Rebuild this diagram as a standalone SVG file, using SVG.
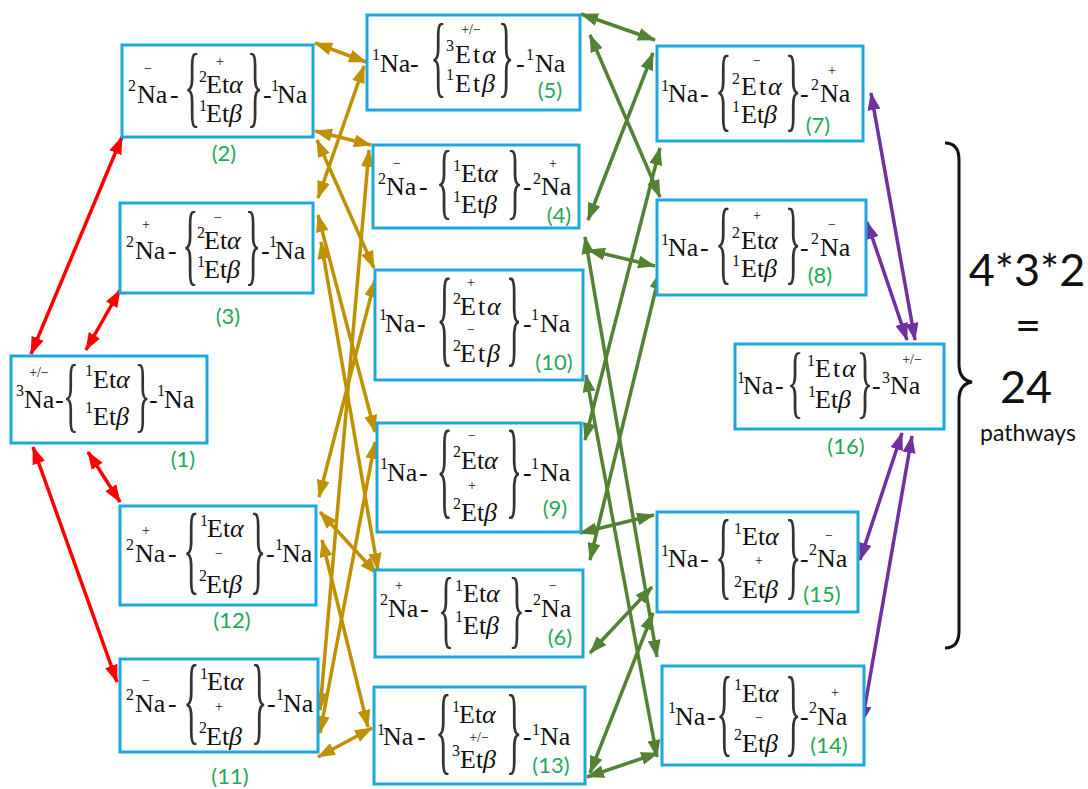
<svg xmlns="http://www.w3.org/2000/svg" width="1088" height="789" viewBox="0 0 1088 789">
<style>
.box{fill:#fff;stroke:#1ca8dd;stroke-width:3}
.m{font-family:"Liberation Serif","Times New Roman","DejaVu Serif",serif;font-size:26px;fill:#111}
.s{font-family:"Liberation Serif","Times New Roman","DejaVu Serif",serif;font-size:16px;fill:#111}
.c{font-family:"Liberation Serif","Times New Roman","DejaVu Serif",serif;font-size:14px;fill:#111;text-anchor:middle}
.i{font-style:italic}
.br{font-family:"Liberation Serif","Times New Roman","DejaVu Serif",serif;fill:#333}
.lb{font-family:Lato,"Open Sans",sans-serif;font-size:22px;fill:#1fa85a;text-anchor:middle}
.big{font-family:Lato,"Open Sans",sans-serif;fill:#111;text-anchor:middle}
.cn line{stroke-width:3.5;fill:none}
.r{stroke:#ff0000;marker-start:url(#ar);marker-end:url(#ar)}
.o{stroke:#bf9000;marker-start:url(#ao);marker-end:url(#ao)}
.g{stroke:#548235;marker-start:url(#ag);marker-end:url(#ag)}
.p{stroke:#7030a0;marker-start:url(#ap);marker-end:url(#ap)}
</style>
<defs>
<marker id="ar" markerUnits="userSpaceOnUse" markerWidth="18" markerHeight="13" viewBox="0 0 18 13" refX="17" refY="6.5" orient="auto-start-reverse"><path d="M0,0 L18,6.5 L0,13 z" fill="#ff0000"/></marker>
<marker id="ao" markerUnits="userSpaceOnUse" markerWidth="18" markerHeight="13" viewBox="0 0 18 13" refX="17" refY="6.5" orient="auto-start-reverse"><path d="M0,0 L18,6.5 L0,13 z" fill="#bf9000"/></marker>
<marker id="ag" markerUnits="userSpaceOnUse" markerWidth="18" markerHeight="13" viewBox="0 0 18 13" refX="17" refY="6.5" orient="auto-start-reverse"><path d="M0,0 L18,6.5 L0,13 z" fill="#548235"/></marker>
<marker id="ap" markerUnits="userSpaceOnUse" markerWidth="18" markerHeight="13" viewBox="0 0 18 13" refX="17" refY="6.5" orient="auto-start-reverse"><path d="M0,0 L18,6.5 L0,13 z" fill="#7030a0"/></marker>
</defs>
<rect width="1088" height="789" fill="#fff"/>

<g id="connectors" class="cn">
<line class="r" x1="31" y1="354" x2="122" y2="137"/>
<line class="r" x1="86" y1="350" x2="120" y2="290"/>
<line class="r" x1="88" y1="452" x2="120" y2="502"/>
<line class="r" x1="33" y1="447" x2="117" y2="682"/>

<line class="o" x1="315" y1="43" x2="366" y2="62"/>
<line class="o" x1="315" y1="131" x2="371" y2="145"/>
<line class="o" x1="317" y1="140" x2="374" y2="268"/>
<line class="o" x1="318" y1="198" x2="364" y2="66"/>
<line class="o" x1="318" y1="215" x2="375" y2="432"/>
<line class="o" x1="321" y1="242" x2="378" y2="570"/>
<line class="o" x1="319" y1="497" x2="375" y2="280"/>
<line class="o" x1="320" y1="512" x2="377" y2="574"/>
<line class="o" x1="322" y1="540" x2="368" y2="727"/>
<line class="o" x1="320" y1="710" x2="369" y2="150"/>
<line class="o" x1="320" y1="733" x2="375" y2="442"/>
<line class="o" x1="318" y1="757" x2="372" y2="728"/>

<line class="g" x1="581" y1="14" x2="655" y2="40"/>
<line class="g" x1="590" y1="35" x2="660" y2="197"/>
<line class="g" x1="588" y1="220" x2="653" y2="53"/>
<line class="g" x1="585" y1="237" x2="657" y2="657"/>
<line class="g" x1="588" y1="250" x2="655" y2="266"/>
<line class="g" x1="586" y1="375" x2="657" y2="757"/>
<line class="g" x1="585" y1="440" x2="660" y2="148"/>
<line class="g" x1="580" y1="533" x2="654" y2="515"/>
<line class="g" x1="590" y1="560" x2="660" y2="272"/>
<line class="g" x1="590" y1="653" x2="652" y2="587"/>
<line class="g" x1="590" y1="773" x2="653" y2="613"/>
<line class="g" x1="587" y1="777" x2="658" y2="753"/>

<line class="p" x1="871" y1="93" x2="915" y2="340"/>
<line class="p" x1="867" y1="222" x2="907" y2="340"/>
<line class="p" x1="860" y1="560" x2="902" y2="433"/>
<line class="p" x1="862" y1="723" x2="912" y2="436"/>
</g>

<g id="n1">
<rect class="box" x="11" y="356" width="196" height="87"/>
<text class="s" x="16" y="396">3</text><text class="c" x="39" y="377">+/−</text><text class="m" x="24" y="408">Na</text>
<text class="m" x="55" y="408">-</text>
<text class="br" font-size="82" transform="translate(65,422) scale(0.4,1)" x="-5">{</text>
<text class="s" x="85" y="376">1</text><text class="m" x="93" y="388">Et<tspan class="i">α</tspan></text>
<text class="s" x="85" y="413">1</text><text class="m" x="93" y="425">Et<tspan class="i">β</tspan></text>
<text class="br" font-size="82" transform="translate(136,422) scale(0.4,1)" x="-3">}</text>
<text class="m" x="149" y="408">-</text><text class="s" x="157" y="396">1</text><text class="m" x="164" y="408">Na</text>
<text class="lb" x="183" y="467">(1)</text>
</g>

<g id="n2">
<rect class="box" x="122" y="45" width="191" height="92"/>
<text class="s" x="128" y="91">2</text><text class="c" x="148" y="73">−</text><text class="m" x="137" y="103">Na</text>
<text class="m" x="170" y="103">-</text>
<text class="br" font-size="90" transform="translate(186,115.6) scale(0.37,1)" x="-5">{</text>
<text class="c" x="220" y="66">+</text>
<text class="s" x="199" y="82">2</text><text class="m" x="206" y="93">Et<tspan class="i">α</tspan></text>
<text class="s" x="199" y="111">1</text><text class="m" x="206" y="122">Et<tspan class="i">β</tspan></text>
<text class="br" font-size="90" transform="translate(248,115.6) scale(0.37,1)" x="-3">}</text>
<text class="m" x="263" y="103">-</text><text class="s" x="271" y="91">1</text><text class="m" x="277" y="103">Na</text>
<text class="lb" x="224" y="161">(2)</text>
</g>

<g id="n3">
<rect class="box" x="120" y="203" width="193" height="90"/>
<text class="s" x="126" y="247">2</text><text class="c" x="146" y="229">+</text><text class="m" x="135" y="259">Na</text>
<text class="m" x="168" y="259">-</text>
<text class="br" font-size="90" transform="translate(184,273.6) scale(0.37,1)" x="-5">{</text>
<text class="c" x="218" y="222">−</text>
<text class="s" x="197" y="238">2</text><text class="m" x="204" y="249">Et<tspan class="i">α</tspan></text>
<text class="s" x="197" y="267">1</text><text class="m" x="204" y="278">Et<tspan class="i">β</tspan></text>
<text class="br" font-size="90" transform="translate(246,273.6) scale(0.37,1)" x="-3">}</text>
<text class="m" x="261" y="259">-</text><text class="s" x="269" y="247">1</text><text class="m" x="275" y="259">Na</text>
<text class="lb" x="228" y="324">(3)</text>
</g>

<g id="n12">
<rect class="box" x="120" y="506" width="196" height="99"/>
<text class="s" x="126" y="550">2</text><text class="c" x="146" y="535">+</text><text class="m" x="135" y="562">Na</text>
<text class="m" x="168" y="562">-</text>
<text class="br" font-size="99" transform="translate(185,582) scale(0.34,1)" x="-5">{</text>
<text class="s" x="200" y="526">1</text><text class="m" x="207" y="537">Et<tspan class="i">α</tspan></text>
<text class="c" x="219" y="558">−</text>
<text class="s" x="199" y="581">2</text><text class="m" x="206" y="593">Et<tspan class="i">β</tspan></text>
<text class="br" font-size="99" transform="translate(251,582) scale(0.34,1)" x="-3">}</text>
<text class="m" x="266" y="562">-</text><text class="s" x="275" y="550">1</text><text class="m" x="282" y="562">Na</text>
<text class="lb" x="232" y="628">(12)</text>
</g>

<g id="n11">
<rect class="box" x="120" y="659" width="198" height="93"/>
<text class="s" x="126" y="700">2</text><text class="c" x="146" y="685">−</text><text class="m" x="135" y="712">Na</text>
<text class="m" x="168" y="712">-</text>
<text class="br" font-size="97" transform="translate(185,732.4) scale(0.35,1)" x="-5">{</text>
<text class="s" x="200" y="679">1</text><text class="m" x="207" y="690">Et<tspan class="i">α</tspan></text>
<text class="c" x="219" y="711">+</text>
<text class="s" x="199" y="733">2</text><text class="m" x="206" y="745">Et<tspan class="i">β</tspan></text>
<text class="br" font-size="97" transform="translate(252,732.4) scale(0.35,1)" x="-3">}</text>
<text class="m" x="267" y="712">-</text><text class="s" x="276" y="700">1</text><text class="m" x="283" y="712">Na</text>
<text class="lb" x="230" y="784">(11)</text>
</g>

<g id="n5">
<rect class="box" x="367" y="15" width="213" height="95"/>
<text class="s" x="372" y="60">1</text><text class="m" x="380" y="72">Na</text>
<text class="m" x="410" y="72">-</text>
<text class="br" font-size="91" transform="translate(432,86.4) scale(0.37,1)" x="-5">{</text>
<text class="c" x="471" y="34">+/−</text>
<text class="s" x="446" y="51">3</text><text class="m" x="455" y="63"><tspan letter-spacing="2">Et</tspan><tspan class="i">α</tspan></text>
<text class="s" x="446" y="80">1</text><text class="m" x="455" y="92"><tspan letter-spacing="2">Et</tspan><tspan class="i">β</tspan></text>
<text class="br" font-size="91" transform="translate(499,86.4) scale(0.37,1)" x="-3">}</text>
<text class="m" x="516" y="72">-</text><text class="s" x="526" y="60">1</text><text class="m" x="535" y="72">Na</text>
<text class="lb" x="550" y="98">(5)</text>
</g>

<g id="n4">
<rect class="box" x="373" y="145" width="206" height="83"/>
<text class="s" x="378" y="184">2</text><text class="c" x="397" y="168">−</text><text class="m" x="386" y="195">Na</text>
<text class="m" x="419" y="195">-</text>
<text class="br" font-size="85" transform="translate(438,208.7) scale(0.4,1)" x="-5">{</text>
<text class="s" x="453" y="171">1</text><text class="m" x="461" y="182">Et<tspan class="i">α</tspan></text>
<text class="s" x="453" y="202">1</text><text class="m" x="461" y="213">Et<tspan class="i">β</tspan></text>
<text class="br" font-size="85" transform="translate(508,208.7) scale(0.4,1)" x="-3">}</text>
<text class="m" x="523" y="195">-</text><text class="s" x="533" y="184">2</text><text class="c" x="553" y="168">+</text><text class="m" x="541" y="195">Na</text>
<text class="lb" x="559" y="223">(4)</text>
</g>

<g id="n10">
<rect class="box" x="375" y="270" width="208" height="110"/>
<text class="s" x="379" y="320">1</text><text class="m" x="385" y="332">Na</text>
<text class="m" x="417" y="332">-</text>
<text class="br" font-size="108" transform="translate(438,353.3) scale(0.31,1)" x="-5">{</text>
<text class="c" x="471" y="287">+</text>
<text class="s" x="453" y="304">2</text><text class="m" x="460" y="315"><tspan letter-spacing="2">Et</tspan><tspan class="i">α</tspan></text>
<text class="c" x="471" y="333.5">−</text>
<text class="s" x="453" y="351">2</text><text class="m" x="460" y="362"><tspan letter-spacing="2">Et</tspan><tspan class="i">β</tspan></text>
<text class="br" font-size="108" transform="translate(507,353.3) scale(0.31,1)" x="-3">}</text>
<text class="m" x="523" y="332">-</text><text class="s" x="531" y="320">1</text><text class="m" x="540" y="332">Na</text>
<text class="lb" x="554" y="370">(10)</text>
</g>

<g id="n9">
<rect class="box" x="377" y="423" width="204" height="109"/>
<text class="s" x="380" y="469">1</text><text class="m" x="387" y="481">Na</text>
<text class="m" x="419" y="481">-</text>
<text class="br" font-size="108" transform="translate(438,505.3) scale(0.31,1)" x="-5">{</text>
<text class="c" x="472" y="440">−</text>
<text class="s" x="453" y="457">2</text><text class="m" x="461" y="469">Et<tspan class="i">α</tspan></text>
<text class="c" x="472" y="490">+</text>
<text class="s" x="453" y="509">2</text><text class="m" x="461" y="521">Et<tspan class="i">β</tspan></text>
<text class="br" font-size="108" transform="translate(507,505.3) scale(0.31,1)" x="-3">}</text>
<text class="m" x="523" y="481">-</text><text class="s" x="531" y="469">1</text><text class="m" x="540" y="481">Na</text>
<text class="lb" x="555" y="516">(9)</text>
</g>

<g id="n6">
<rect class="box" x="375" y="570" width="208" height="87"/>
<text class="s" x="380" y="605">2</text><text class="c" x="399" y="590">+</text><text class="m" x="388" y="617">Na</text>
<text class="m" x="420" y="617">-</text>
<text class="br" font-size="86" transform="translate(440,636.5) scale(0.39,1)" x="-5">{</text>
<text class="s" x="455" y="591">1</text><text class="m" x="463" y="602">Et<tspan class="i">α</tspan></text>
<text class="s" x="455" y="622">1</text><text class="m" x="463" y="634">Et<tspan class="i">β</tspan></text>
<text class="br" font-size="86" transform="translate(510,636.5) scale(0.39,1)" x="-3">}</text>
<text class="m" x="524" y="617">-</text><text class="s" x="533" y="605">2</text><text class="c" x="553" y="590">−</text><text class="m" x="541" y="617">Na</text>
<text class="lb" x="560" y="645">(6)</text>
</g>

<g id="n13">
<rect class="box" x="374" y="687" width="211" height="97"/>
<text class="s" x="377" y="735">1</text><text class="m" x="383" y="745">Na</text>
<text class="m" x="417" y="745">-</text>
<text class="br" font-size="97" transform="translate(437,762.4) scale(0.35,1)" x="-5">{</text>
<text class="s" x="452" y="712">1</text><text class="m" x="459" y="723">Et<tspan class="i">α</tspan></text>
<text class="c" x="479" y="741.5">+/−</text>
<text class="s" x="452" y="756">3</text><text class="m" x="460" y="768">Et<tspan class="i">β</tspan></text>
<text class="br" font-size="97" transform="translate(507,762.4) scale(0.35,1)" x="-3">}</text>
<text class="m" x="523" y="745">-</text><text class="s" x="532" y="735">1</text><text class="m" x="540" y="745">Na</text>
<text class="lb" x="551" y="773">(13)</text>
</g>

<g id="n7">
<rect class="box" x="657" y="46" width="206" height="95"/>
<text class="s" x="661" y="91">1</text><text class="m" x="668" y="102">Na</text>
<text class="m" x="700" y="102">-</text>
<text class="br" font-size="94" transform="translate(717,120) scale(0.36,1)" x="-5">{</text>
<text class="c" x="757" y="65">−</text>
<text class="s" x="732" y="84">2</text><text class="m" x="741" y="95"><tspan letter-spacing="2">Et</tspan><tspan class="i">α</tspan></text>
<text class="s" x="732" y="112">1</text><text class="m" x="741" y="123">Et<tspan class="i">β</tspan></text>
<text class="br" font-size="94" transform="translate(786,120) scale(0.36,1)" x="-3">}</text>
<text class="m" x="800" y="102">-</text><text class="s" x="811" y="90">2</text><text class="c" x="832" y="75">+</text><text class="m" x="820" y="102">Na</text>
<text class="lb" x="818" y="133">(7)</text>
</g>

<g id="n8">
<rect class="box" x="657" y="200" width="209" height="95"/>
<text class="s" x="661" y="245">1</text><text class="m" x="668" y="256">Na</text>
<text class="m" x="700" y="256">-</text>
<text class="br" font-size="94" transform="translate(717,273) scale(0.36,1)" x="-5">{</text>
<text class="c" x="757" y="220">+</text>
<text class="s" x="732" y="238">2</text><text class="m" x="741" y="249">Et<tspan class="i">α</tspan></text>
<text class="s" x="732" y="266">1</text><text class="m" x="741" y="277">Et<tspan class="i">β</tspan></text>
<text class="br" font-size="94" transform="translate(786,273) scale(0.36,1)" x="-3">}</text>
<text class="m" x="800" y="256">-</text><text class="s" x="811" y="244">2</text><text class="c" x="832" y="229">−</text><text class="m" x="820" y="256">Na</text>
<text class="lb" x="820" y="283">(8)</text>
</g>

<g id="n16">
<rect class="box" x="735" y="344" width="209" height="85"/>
<text class="s" x="737" y="383">1</text><text class="m" x="743" y="394">Na</text>
<text class="m" x="775" y="394">-</text>
<text class="br" font-size="81" transform="translate(789,408.3) scale(0.42,1)" x="-5">{</text>
<text class="s" x="807" y="366">1</text><text class="m" x="815" y="377"><tspan letter-spacing="2">Et</tspan><tspan class="i">α</tspan></text>
<text class="s" x="808" y="397">1</text><text class="m" x="815" y="408">Et<tspan class="i">β</tspan></text>
<text class="br" font-size="81" transform="translate(858,408.3) scale(0.42,1)" x="-3">}</text>
<text class="m" x="872" y="394">-</text><text class="s" x="882" y="383">3</text><text class="c" x="912" y="364">+/−</text><text class="m" x="890" y="394">Na</text>
<text class="lb" x="846" y="454">(16)</text>
</g>

<g id="n15">
<rect class="box" x="657" y="512" width="201" height="100"/>
<text class="s" x="661" y="556">1</text><text class="m" x="668" y="567">Na</text>
<text class="m" x="700" y="567">-</text>
<text class="br" font-size="97" transform="translate(717,587.4) scale(0.35,1)" x="-5">{</text>
<text class="s" x="734" y="534">1</text><text class="m" x="742" y="545">Et<tspan class="i">α</tspan></text>
<text class="c" x="759" y="565">+</text>
<text class="s" x="734" y="587">2</text><text class="m" x="742" y="598">Et<tspan class="i">β</tspan></text>
<text class="br" font-size="97" transform="translate(786,587.4) scale(0.35,1)" x="-3">}</text>
<text class="m" x="800" y="567">-</text><text class="s" x="809" y="555">2</text><text class="c" x="829" y="540">−</text><text class="m" x="817" y="567">Na</text>
<text class="lb" x="822" y="602">(15)</text>
</g>

<g id="n14">
<rect class="box" x="662" y="666" width="202" height="99"/>
<text class="s" x="668" y="713">1</text><text class="m" x="675" y="725">Na</text>
<text class="m" x="707" y="725">-</text>
<text class="br" font-size="97" transform="translate(718,744.4) scale(0.35,1)" x="-5">{</text>
<text class="s" x="734" y="690">1</text><text class="m" x="742" y="702">Et<tspan class="i">α</tspan></text>
<text class="c" x="759" y="722">−</text>
<text class="s" x="734" y="740">2</text><text class="m" x="742" y="752">Et<tspan class="i">β</tspan></text>
<text class="br" font-size="97" transform="translate(786,744.4) scale(0.35,1)" x="-3">}</text>
<text class="m" x="800" y="725">-</text><text class="s" x="809" y="713">2</text><text class="c" x="835" y="697">+</text><text class="m" x="817" y="725">Na</text>
<text class="lb" x="829" y="753">(14)</text>
</g>

<g id="summary">
<path d="M945,143 Q959,143 959,160 L959,364 Q959,380 972,382 Q959,384 959,400 L959,631 Q959,648 945,648" fill="none" stroke="#111" stroke-width="3"/>
<text class="big" x="1027" y="286" font-size="45">4*3*2</text>
<text class="big" x="1028" y="341" font-size="45">=</text>
<text class="big" x="1026" y="403" font-size="45">24</text>
<text class="big" x="1028" y="441" font-size="23">pathways</text>
</g>
</svg>
